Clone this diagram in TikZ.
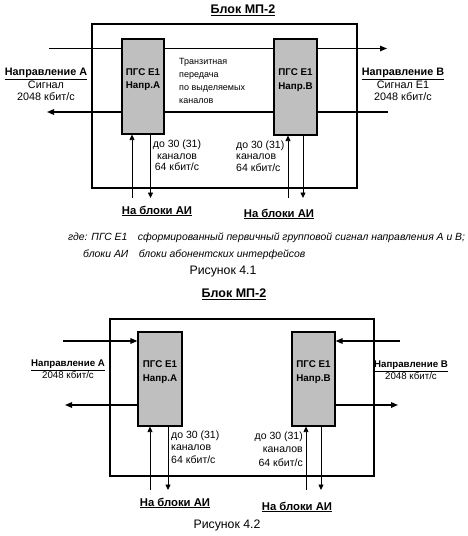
\documentclass[tikz,border=0pt]{standalone}
\usepackage{fontspec}
\setmainfont{Liberation Sans}
\usetikzlibrary{arrows.meta}

\tikzset{
  outerbox/.style={line width=2.6pt},
  blk/.style={draw,line width=1.1pt,fill=black!25,minimum width=43pt,minimum height=96pt,inner sep=0pt},
  blktxt/.style={align=center,inner sep=0pt,font=\bfseries\fontsize{9.8}{13.5}\selectfont},
  sig/.style={line width=1.4pt},
  chan/.style={line width=0.8pt},
  tip/.style={-{Triangle[length=7pt,width=5.5pt]}},
  ctip/.style={-{Triangle[length=5.5pt,width=5pt]}},
  lbl/.style={align=center,inner sep=0pt,font=\fontsize{10.8}{12.5}\selectfont},
  ailbl/.style={inner sep=0pt,font=\bfseries\fontsize{11.3}{13}\selectfont},
  head/.style={inner sep=0pt,font=\bfseries\fontsize{12.5}{14}\selectfont},
  figcap/.style={inner sep=0pt,font=\fontsize{12.3}{14}\selectfont},
  notelbl/.style={anchor=west,inner sep=0pt,font=\itshape\fontsize{10.4}{12}\selectfont},
}

\begin{document}
\begin{tikzpicture}[x=1pt,y=-1pt]
  \useasboundingbox (0,0) rectangle (468,536);

  % Рисунок 4.1
  \node[head] (title1) at (243,10) {\underline{Блок МП-2}};
  \draw[outerbox] (92,24) rectangle (357,188);
  \node[blk,minimum width=42pt,minimum height=95pt] (A1) at (143,86.5) {};
  \node[blk] (B1) at (295.5,87) {};
  \node[blktxt] (A1t) at ([yshift=7pt]A1) {ПГС Е1\\Напр.А};
  \node[blktxt] (B1t) at ([yshift=7pt]B1) {ПГС Е1\\Напр.В};
  \coordinate (tl1) at (49,48.5);
  \coordinate (tr1) at (387,48.5);
  \coordinate (bl1) at (47,112);
  \coordinate (br1) at (388,112);
  \draw[sig] (tl1) -- (tl1 -| A1.west);
  \draw[sig] (tl1 -| A1.east) -- (tl1 -| B1.west);
  \draw[sig,tip] (tl1 -| B1.east) -- (tr1);
  \draw[sig,tip] (bl1 -| A1.west) -- (bl1);
  \draw[sig] (bl1 -| A1.east) -- (bl1 -| B1.west);
  \draw[sig] (bl1 -| B1.east) -- (br1);
  \coordinate (a1u) at (132,198);
  \coordinate (a1d) at (150.5,198);
  \coordinate (b1u) at (288,198);
  \coordinate (b1d) at (303,198);
  \draw[chan,ctip] (a1u) -- (a1u |- A1.south);
  \draw[chan,ctip] (a1d |- A1.south) -- (a1d);
  \draw[chan,ctip] (b1u) -- (b1u |- B1.south);
  \draw[chan,ctip] (b1d |- B1.south) -- (b1d);
  \node[lbl] (dirA1) at (46,84.5) {\textbf{\underline{Направление А}}\\Сигнал\\2048 кбит/с};
  \node[lbl] (dirB1) at (403,84.5) {\textbf{\underline{Направление В}}\\Сигнал Е1\\2048 кбит/с};
  \node[anchor=west,align=left,inner sep=0pt,font=\fontsize{9}{13}\selectfont] (tran1) at (179,81)
    {Транзитная\\ передача\\по выделяемых\\ каналов};
  \node[lbl,font=\fontsize{10.5}{11.5}\selectfont] (chA1) at (177,155.5) {до 30 (31)\\каналов\\64 кбит/с};
  \node[lbl,align=left,anchor=west,font=\fontsize{10.5}{11.5}\selectfont] (chB1) at (236,156) {до 30 (31)\\каналов\\64 кбит/с};
  \node[ailbl] (aiA1) at (157,211) {\underline{На блоки АИ}};
  \node[ailbl] (aiB1) at (279,214) {\underline{На блоки АИ}};
  \node[notelbl] (note1) at (68,238) {где: ПГС Е1\quad сформированный первичный групповой сигнал направления А и В;};
  \node[notelbl] (note2) at (83,255) {блоки АИ\quad блоки абонентских интерфейсов};
  \node[figcap] (cap1) at (223,272) {Рисунок 4.1};

  % Рисунок 4.2
  \node[head] (title2) at (234,294) {\underline{Блок МП-2}};
  \draw[outerbox] (110,319) rectangle (374,476);
  \node[blk,minimum width=44pt,minimum height=94pt] (A2) at (160,379) {};
  \node[blk,minimum width=43pt,minimum height=94pt] (B2) at (313.5,379) {};
  \node[blktxt] (A2t) at ([yshift=7pt]A2) {ПГС Е1\\Напр.А};
  \node[blktxt] (B2t) at ([yshift=7pt]B2) {ПГС Е1\\Напр.В};
  \coordinate (ia2) at (63,341);
  \coordinate (ib2) at (400,341);
  \coordinate (oa2) at (65,405);
  \coordinate (ob2) at (398,405);
  \draw[sig,tip] (ia2) -- (ia2 -| A2.west);
  \draw[sig,tip] (ib2) -- (ib2 -| B2.east);
  \draw[sig,tip] (oa2 -| A2.west) -- (oa2);
  \draw[sig,tip] (ob2 -| B2.east) -- (ob2);
  \coordinate (a2u) at (150,490);
  \coordinate (a2d) at (168,490);
  \coordinate (b2u) at (306,490);
  \coordinate (b2d) at (321,490);
  \draw[chan,ctip] (a2u) -- (a2u |- A2.south);
  \draw[chan,ctip] (a2d |- A2.south) -- (a2d);
  \draw[chan,ctip] (b2u) -- (b2u |- B2.south);
  \draw[chan,ctip] (b2d |- B2.south) -- (b2d);
  \node[lbl,font=\fontsize{9.7}{11.5}\selectfont] (dirA2) at (68,369) {\textbf{\underline{Направление А}}\\2048 кбит/с};
  \node[lbl,font=\fontsize{9.7}{11.5}\selectfont] (dirB2) at (411,370) {\textbf{\underline{Направление В}}\\2048 кбит/с};
  \node[lbl,align=left,anchor=west,font=\fontsize{10.5}{12.5}\selectfont] (chA2) at (171,447) {до 30 (31)\\каналов\\64 кбит/с};
  \node[lbl,align=right,anchor=east,font=\fontsize{10.5}{13.5}\selectfont] (chB2) at (303,449) {до 30 (31)\\каналов\\64 кбит/с};
  \node[ailbl] (aiA2) at (175,503) {\underline{На блоки АИ}};
  \node[ailbl] (aiB2) at (297,507) {\underline{На блоки АИ}};
  \node[figcap] (cap2) at (227,525) {Рисунок 4.2};
\end{tikzpicture}
\end{document}
